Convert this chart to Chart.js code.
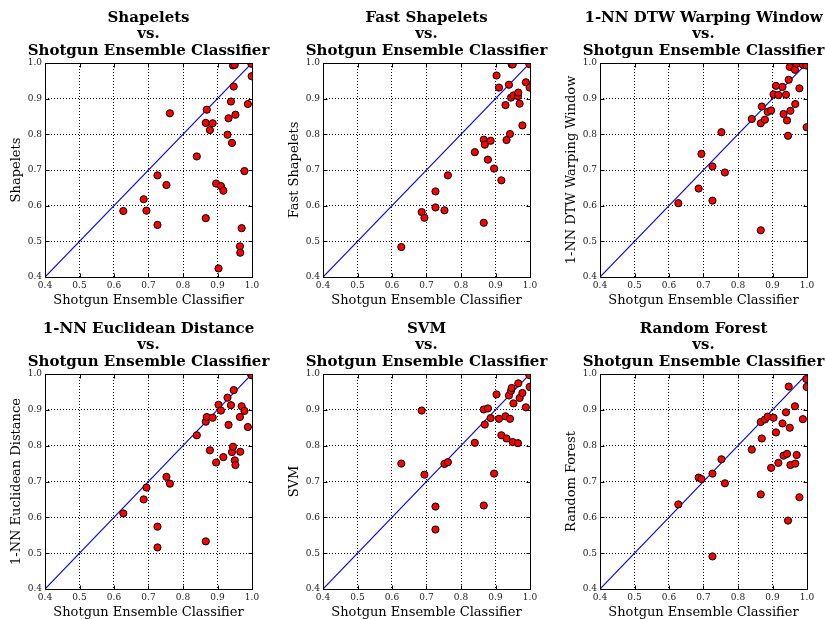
<!DOCTYPE html>
<html>
<head>
<meta charset="utf-8">
<title>Shotgun Ensemble Classifier comparisons</title>
<script src="https://cdn.jsdelivr.net/npm/chart.js@4.4.0/dist/chart.umd.min.js"></script>
<style>
  html, body { margin: 0; padding: 0; background: #fff; overflow: hidden; }
  body { width: 825px; height: 619px; position: relative; }
  canvas { position: absolute; display: block; }
</style>
</head>
<body>
<canvas id="p0" width="278" height="311" style="left:0;top:0"></canvas>
<canvas id="p1" width="277" height="311" style="left:278px;top:0"></canvas>
<canvas id="p2" width="270" height="311" style="left:555px;top:0"></canvas>
<canvas id="p3" width="278" height="312" style="left:0;top:311px"></canvas>
<canvas id="p4" width="277" height="312" style="left:278px;top:311px"></canvas>
<canvas id="p5" width="270" height="312" style="left:555px;top:311px"></canvas>

<script>
// accuracy of the shotgun ensemble on each dataset (shared x axis)
const shotgun = [0.627, 0.686, 0.694, 0.726, 0.726, 0.752, 0.762, 0.840, 0.866, 0.866, 0.869, 0.878, 0.886, 0.896, 0.903, 0.910,
                 0.917, 0.929, 0.932, 0.939, 0.942, 0.945, 0.947, 0.950, 0.952, 0.965, 0.966, 0.970, 0.978, 0.988, 0.998, 0.999];

// accuracy of the other classifiers, same dataset order
const shapelets = [0.585, 0.618, 0.586, 0.685, 0.546, 0.658, 0.859, 0.738, 0.832, 0.565, 0.869, 0.812, 0.831, 0.662, 0.424, 0.655,
                   0.642, 0.799, 0.845, 0.892, 0.776, 0.993, 0.934, 0.995, 0.855, 0.486, 0.468, 0.537, 0.697, 0.885, 0.998, 0.963];
const fastShapelets = [0.484, 0.582, 0.566, 0.595, 0.640, 0.587, 0.685, 0.750, 0.785, 0.552, 0.771, 0.729, 0.782, 0.704, 0.965, 0.931,
                       0.671, 0.882, 0.784, 0.939, 0.801, 0.903, 0.996, 0.996, 0.909, 0.907, 0.917, 0.886, 0.825, 0.946, 0.997, 0.931];
const dtwWindow = [0.607, 0.648, 0.745, 0.710, 0.614, 0.806, 0.693, 0.843, 0.831, 0.531, 0.878, 0.841, 0.863, 0.867, 0.912, 0.936,
                   0.910, 0.933, 0.857, 0.911, 0.839, 0.796, 0.953, 0.989, 0.866, 0.981, 0.885, 0.998, 0.929, 0.995, 0.993, 0.820];
const euclidean = [0.611, 0.650, 0.683, 0.574, 0.516, 0.713, 0.694, 0.829, 0.867, 0.533, 0.880, 0.787, 0.878, 0.753, 0.914, 0.898,
                   0.768, 0.934, 0.858, 0.913, 0.782, 0.797, 0.955, 0.759, 0.746, 0.880, 0.783, 0.910, 0.897, 0.852, 0.997, 0.997];
const svm = [0.750, 0.898, 0.719, 0.630, 0.566, 0.749, 0.754, 0.808, 0.901, 0.633, 0.859, 0.904, 0.877, 0.722, 0.943, 0.875,
             0.829, 0.882, 0.820, 0.940, 0.875, 0.953, 0.961, 0.810, 0.918, 0.807, 0.974, 0.933, 0.947, 0.907, 0.997, 0.964];
const randomForest = [0.636, 0.711, 0.707, 0.722, 0.491, 0.762, 0.695, 0.789, 0.866, 0.664, 0.820, 0.873, 0.881, 0.738, 0.878, 0.837,
                      0.752, 0.862, 0.772, 0.893, 0.777, 0.591, 0.965, 0.850, 0.746, 0.910, 0.750, 0.774, 0.656, 0.874, 0.986, 0.964];

const panelNames = ['Shapelets', 'Fast Shapelets', '1-NN DTW Warping Window', '1-NN Euclidean Distance', 'SVM', 'Random Forest'];
const panelValues = [shapelets, fastShapelets, dtwWindow, euclidean, svm, randomForest];
const xLabel = 'Shotgun Ensemble Classifier';
const tickValues = [0.4, 0.5, 0.6, 0.7, 0.8, 0.9, 1.0];
const diagonal = [0.4, 1.0];

const SERIF = '"DejaVu Serif", "Liberation Serif", serif';
const padRight = [26, 25, 18];

// frame, inward ticks and the three-line title centred on the plot area
const panelDecor = {
  id: 'panelDecor',
  afterDraw(chart, args, opts) {
    const { ctx, chartArea: a, scales: { x, y } } = chart;
    const L = Math.round(a.left) + 0.5, R = Math.round(a.right) + 0.5;
    const T = Math.round(a.top) + 0.5, B = Math.round(a.bottom) + 0.5;
    ctx.save();
    ctx.strokeStyle = '#000';
    ctx.lineWidth = 1;
    ctx.beginPath();
    tickValues.forEach(v => {
      const px = Math.round(x.getPixelForValue(v)) + 0.5;
      const py = Math.round(y.getPixelForValue(v)) + 0.5;
      ctx.moveTo(px, B); ctx.lineTo(px, B - 4);
      ctx.moveTo(px, T); ctx.lineTo(px, T + 4);
      ctx.moveTo(L, py); ctx.lineTo(L + 4, py);
      ctx.moveTo(R, py); ctx.lineTo(R - 4, py);
    });
    ctx.stroke();
    ctx.strokeRect(L, T, R - L, B - T);

    ctx.fillStyle = '#000';
    ctx.font = 'bold 15px ' + SERIF;
    ctx.textAlign = 'center';
    ctx.textBaseline = 'middle';
    const cx = (a.left + a.right) / 2;
    opts.lines.forEach((line, i) => {
      ctx.fillText(line, cx, a.top - 45 + i * 16.5);
    });
    ctx.restore();
  }
};

function axis(label, horizontal) {
  return {
    type: 'linear',
    min: 0.4,
    max: 1.0,
    afterBuildTicks: s => { s.ticks = tickValues.map(v => ({ value: v })); },
    afterFit: s => { if (horizontal) s.height = 32; else s.width = 45; },
    grid: { color: '#000', lineWidth: 1, drawTicks: false },
    border: { display: false, dash: [1, 2] },
    ticks: {
      padding: 3,
      color: '#222',
      maxRotation: 0,
      autoSkip: false,
      font: { family: SERIF, size: 9 },
      callback: v => Number(v).toFixed(1)
    },
    title: {
      display: true,
      text: label,
      color: '#000',
      font: { family: SERIF, size: 13 },
      padding: horizontal ? { top: 0, bottom: 1 } : { top: 9, bottom: 0 }
    }
  };
}

panelNames.forEach((name, i) => {
  const values = panelValues[i];
  new Chart(document.getElementById('p' + i), {
    type: 'scatter',
    data: {
      datasets: [
        {
          data: shotgun.map((s, k) => ({ x: s, y: values[k] })),
          backgroundColor: '#ff0000',
          borderColor: '#000',
          borderWidth: 1,
          pointRadius: 3.6,
          clip: 0
        },
        {
          type: 'line',
          data: diagonal.map(v => ({ x: v, y: v })),
          borderColor: '#0000ff',
          borderWidth: 1.2,
          pointRadius: 0,
          clip: 0
        }
      ]
    },
    options: {
      responsive: false,
      animation: false,
      layout: { padding: { top: 63, right: padRight[i % 3], bottom: i < 3 ? 2 : 2, left: 0 } },
      plugins: {
        legend: { display: false },
        tooltip: { enabled: false },
        panelDecor: { lines: [name, 'vs.', xLabel] }
      },
      scales: {
        x: axis(xLabel, true),
        y: axis(name, false)
      }
    },
    plugins: [panelDecor]
  });
});
</script>
</body>
</html>
